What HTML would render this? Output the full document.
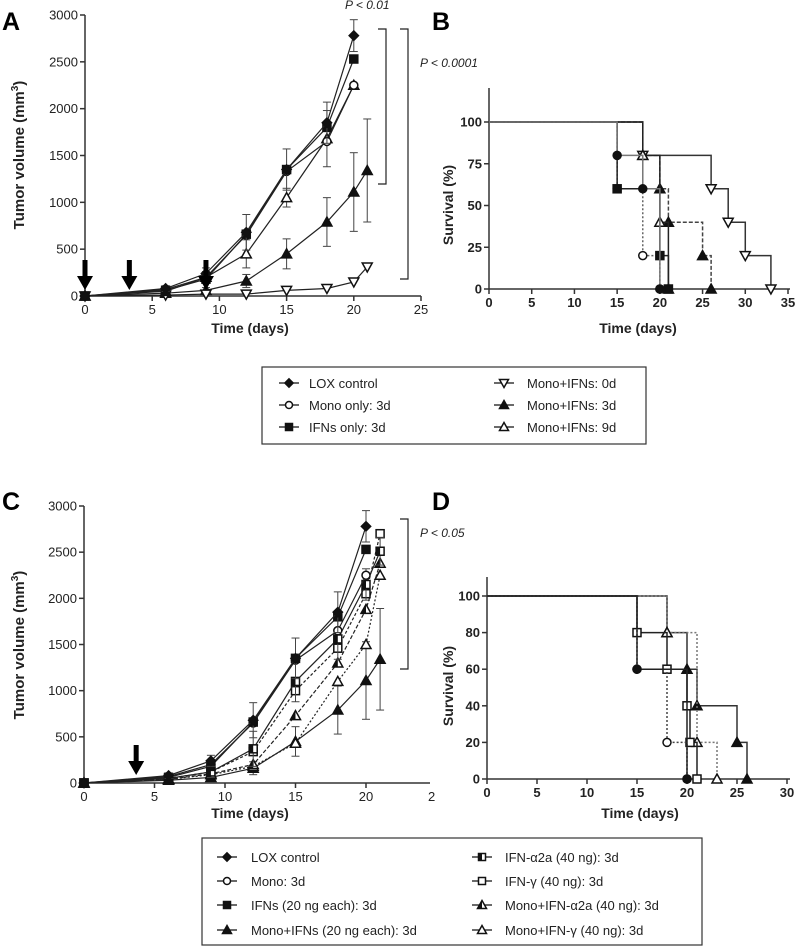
<!DOCTYPE html>
<html><head><meta charset="utf-8"><style>
body{margin:0;background:#fff;}
svg{display:block;font-family:"Liberation Sans",Arial,sans-serif;}
</style></head><body>
<svg id="fig" width="800" height="946" viewBox="0 0 800 946">
</svg>
<script>
// ---------- Data ----------
const daysA=[0,6,9,12,15,18,20,21];
const aLox=[0,80,240,680,1350,1850,2780,null];
const aMono=[0,70,200,650,1330,1650,2250,null];
const aIfn=[0,60,180,660,1350,1800,2530,null];
const aMono0=[0,10,20,20,60,80,150,310];
const aMono3=[0,30,60,160,450,790,1110,1340];
const aMono9=[0,50,200,450,1050,1680,2250,null];
const aLoxErr=[0,30,60,190,220,220,170,0];
const aMono3Err=[0,10,30,70,160,260,420,550];
const aMono9Err=[0,20,60,150,100,300,0,0];
const tickYA=[0,500,1000,1500,2000,2500,3000];
const tickXA=[0,5,10,15,20,25];

const cLox=[0,80,240,680,1350,1850,2780,null];
const cMono=[0,70,200,650,1330,1650,2250,null];
const cIfn=[0,60,180,660,1350,1800,2530,null];
const cMonoIfn=[0,30,60,160,450,790,1110,1340];
const cA2a=[0,50,120,370,1100,1560,2150,2510];
const cGam=[0,50,120,340,1000,1460,2050,2700];
const cMonoA2a=[0,40,100,200,730,1300,1880,2380];
const cMonoGam=[0,40,90,180,430,1100,1500,2250];
const cErr=[0,30,60,190,220,220,170,150];
const cMonoIfnErr=[0,10,30,70,160,260,420,550];

const bLoxT=[0,15,18,20], bLoxS=[100,80,60,0];
const bMonoT=[0,15,18,20], bMonoS=[100,60,20,0];
const bIfnT=[0,15,20,21], bIfnS=[100,60,20,0];
const b0T=[0,18,26,28,30,33], b0S=[100,80,60,40,20,0];
const b3T=[0,18,20,21,25,26], b3S=[100,80,60,40,20,0];
const b9T=[0,18,20,21], b9S=[100,80,40,0];
const tickYB=[0,25,50,75,100];
const tickXB=[0,5,10,15,20,25,30,35];

const dLoxT=[0,15,20], dLoxS=[100,60,0];
const dMonoT=[0,15,18,20], dMonoS=[100,60,20,0];
const dGamT=[0,15,18,20,20.3,21], dGamS=[100,80,60,40,20,0];
const dMIT=[0,18,20,21,25,26], dMIS=[100,80,60,40,20,0];
const dMGT=[0,18,21,23], dMGS=[100,80,20,0];
const tickYD=[0,20,40,60,80,100];
const tickXD=[0,5,10,15,20,25,30];

// ---------- helpers ----------
const svg=document.getElementById('fig');
const NS='http://www.w3.org/2000/svg';
function el(tag,attrs,parent){const e=document.createElementNS(NS,tag);for(const k in attrs)e.setAttribute(k,attrs[k]);(parent||svg).appendChild(e);return e;}
function txt(x,y,s,attrs,parent){const t=el('text',Object.assign({x:x,y:y,'font-size':13,fill:'#222'},attrs||{}),parent);t.textContent=s;return t;}
function marker(g,type,x,y,fill,s){
  s=s||4;let e;
  if(type==='circle')e=el('circle',{cx:x,cy:y,r:s,fill:fill,stroke:'#111','stroke-width':1.5},g);
  else if(type==='square')e=el('rect',{x:x-s,y:y-s,width:2*s,height:2*s,fill:fill,stroke:'#111','stroke-width':1.5},g);
  else if(type==='diamond')e=el('polygon',{points:`${x},${y-s-1} ${x+s+1},${y} ${x},${y+s+1} ${x-s-1},${y}`,fill:fill,stroke:'#111','stroke-width':1},g);
  else if(type==='tri')e=el('polygon',{points:`${x},${y-s-1} ${x+s+1},${y+s} ${x-s-1},${y+s}`,fill:fill,stroke:'#111','stroke-width':1.5},g);
  else if(type==='dtri')e=el('polygon',{points:`${x},${y+s+1} ${x+s+1},${y-s} ${x-s-1},${y-s}`,fill:fill,stroke:'#111','stroke-width':1.5},g);
  else if(type==='hsquare'){e=el('rect',{x:x-s,y:y-s,width:2*s,height:2*s,fill:'#fff',stroke:'#111','stroke-width':1.5},g);el('rect',{x:x-s,y:y-s,width:s,height:2*s,fill:'#111'},g);}
  else if(type==='htri'){e=el('polygon',{points:`${x},${y-s-1} ${x+s+1},${y+s} ${x-s-1},${y+s}`,fill:'#fff',stroke:'#111','stroke-width':1.5},g);el('polygon',{points:`${x},${y-s-1} ${x},${y+s} ${x-s-1},${y+s}`,fill:'#111'},g);}
  return e;
}
function axes(g,x0,y0,xEnd,yTop,sx,sy,xt,yt,xlab){
  el('line',{x1:x0,y1:y0,x2:xEnd,y2:y0,stroke:'#333','stroke-width':1.5},g);
  el('line',{x1:x0,y1:y0,x2:x0,y2:yTop,stroke:'#333','stroke-width':1.5},g);
  yt.forEach(v=>{const y=sy(v);el('line',{x1:x0-5,y1:y,x2:x0,y2:y,stroke:'#333','stroke-width':1.5},g);txt(x0-7,y+4.5,String(v),{'text-anchor':'end','font-size':13,'font-weight':xlab?'normal':'bold'},g);});
  xt.forEach(v=>{const x=sx(v);el('line',{x1:x,y1:y0,x2:x,y2:y0+5,stroke:'#333','stroke-width':1.5},g);txt(x,y0+18,String(v),{'text-anchor':'middle','font-size':13,'font-weight':xlab?'normal':'bold'},g);});
}
function growth(g,sx,sy,xs,vals,type,fill,dash,err){
  const pts=[];xs.forEach((d,i)=>{if(vals[i]!=null)pts.push([sx(d),sy(vals[i]),i]);});
  el('polyline',{points:pts.map(p=>p[0]+','+p[1]).join(' '),fill:'none',stroke:'#222','stroke-width':1.2,'stroke-dasharray':dash||'none'},g);
  if(err)pts.forEach(p=>{const e=err[p[2]];if(!e)return;const v=vals[p[2]];const y1=sy(v+e),y2=sy(v-e);el('line',{x1:p[0],y1:y1,x2:p[0],y2:y2,stroke:'#444','stroke-width':1},g);el('line',{x1:p[0]-4,y1:y1,x2:p[0]+4,y2:y1,stroke:'#444','stroke-width':1},g);el('line',{x1:p[0]-4,y1:y2,x2:p[0]+4,y2:y2,stroke:'#444','stroke-width':1},g);});
  pts.forEach(p=>marker(g,type,p[0],p[1],fill));
}
function km(g,sx,sy,ts,ss,type,fill,dash,color){
  let d=`M${sx(ts[0])},${sy(ss[0])}`;
  for(let i=1;i<ts.length;i++){d+=` H${sx(ts[i])} V${sy(ss[i])}`;}
  el('path',{d:d,fill:'none',stroke:color||'#222','stroke-width':1.5,'stroke-dasharray':dash||'none'},g);
  for(let i=1;i<ts.length;i++)marker(g,type,sx(ts[i]),sy(ss[i]),fill);
}
function arrow(g,x,yTop,yTip){
  el('polygon',{points:`${x-2.5},${yTop} ${x+2.5},${yTop} ${x+2.5},${yTip-14} ${x+8},${yTip-14} ${x},${yTip} ${x-8},${yTip-14} ${x-2.5},${yTip-14}`,fill:'#000'},g);
}
function bracket(g,x,y1,y2){el('path',{d:`M${x},${y1} H${x+8} V${y2} H${x}`,fill:'none',stroke:'#222','stroke-width':1.2},g);}

// ---------- Panel A ----------
const gA=el('g',{});
const sxA=d=>85+d*13.44, syA=v=>296-v*281/3000;
axes(gA,85,296,421,15,sxA,syA,tickXA,tickYA,true);
txt(2,30,'A',{'font-size':25,'font-weight':'bold',fill:'#000'},gA);
const ytA=txt(0,0,'',{'font-size':15,'font-weight':'bold','text-anchor':'middle',transform:'translate(24,155) rotate(-90)'},gA);
ytA.innerHTML='Tumor volume (mm<tspan dy="-6" font-size="10">3</tspan><tspan dy="6">)</tspan>';
txt(250,333,'Time (days)',{'font-size':14,'font-weight':'bold','text-anchor':'middle'},gA);
growth(gA,sxA,syA,daysA,aMono3,'tri','#111',null,aMono3Err);
growth(gA,sxA,syA,daysA,aMono0,'dtri','#fff',null,null);
growth(gA,sxA,syA,daysA,aMono9,'tri','#fff',null,aMono9Err);
growth(gA,sxA,syA,daysA,aMono,'circle','#fff',null,null);
growth(gA,sxA,syA,daysA,aIfn,'square','#111',null,null);
growth(gA,sxA,syA,daysA,aLox,'diamond','#111',null,aLoxErr);
[0,3.3,9].forEach(d=>arrow(gA,sxA(d),260,290));
bracket(gA,378,29,184);bracket(gA,400,29,279);
txt(345,9,'P < 0.01',{'font-style':'italic','font-size':12},gA);
txt(420,67,'P < 0.0001',{'font-style':'italic','font-size':12},gA);

// ---------- Panel B ----------
const gB=el('g',{});
const sxB=d=>489+d*299/35, syB=v=>289-v*1.67;
axes(gB,489,289,790,88,sxB,syB,tickXB,tickYB,false);
txt(432,30,'B',{'font-size':25,'font-weight':'bold',fill:'#000'},gB);
txt(0,0,'Survival (%)',{'font-size':14,'font-weight':'bold','text-anchor':'middle',transform:'translate(453,205) rotate(-90)'},gB);
txt(638,333,'Time (days)',{'font-size':14,'font-weight':'bold','text-anchor':'middle'},gB);
km(gB,sxB,syB,b0T,b0S,'dtri','#fff',null,'#333');
km(gB,sxB,syB,b3T,b3S,'tri','#111','4,2','#444');
km(gB,sxB,syB,b9T,b9S,'tri','#fff',null,'#222');
km(gB,sxB,syB,bMonoT,bMonoS,'circle','#fff','2,2','#666');
km(gB,sxB,syB,bIfnT,bIfnS,'square','#111',null,'#222');
km(gB,sxB,syB,bLoxT,bLoxS,'circle','#111',null,'#777');

// ---------- Legend A ----------
const lA=el('g',{});
el('rect',{x:262,y:367,width:384,height:77,fill:'#fff',stroke:'#333','stroke-width':1.2},lA);
[['diamond','#111','LOX control',289,309,383],['circle','#fff','Mono only: 3d',289,309,405],['square','#111','IFNs only: 3d',289,309,427],
 ['dtri','#fff','Mono+IFNs: 0d',504,527,383],['tri','#111','Mono+IFNs: 3d',504,527,405],['tri','#fff','Mono+IFNs: 9d',504,527,427]].forEach(r=>{
  const e=el('g',{},lA);
  el('line',{x1:r[3]-10,y1:r[5],x2:r[3]+10,y2:r[5],stroke:'#111','stroke-width':1.3},e);marker(e,r[0],r[3],r[5],r[1],3.5);
  txt(r[4],r[5]+5,r[2],{'font-size':13},e);});

// ---------- Panel C ----------
const gC=el('g',{});
const sxC=d=>84+d*14.1, syC=v=>783-v*277/3000;
axes(gC,84,783,430,506,sxC,syC,[0,5,10,15,20],tickYA,true);
txt(428,801,'2',{'font-size':13},gC);
txt(2,510,'C',{'font-size':25,'font-weight':'bold',fill:'#000'},gC);
const ytC=txt(0,0,'',{'font-size':15,'font-weight':'bold','text-anchor':'middle',transform:'translate(24,645) rotate(-90)'},gC);
ytC.innerHTML='Tumor volume (mm<tspan dy="-6" font-size="10">3</tspan><tspan dy="6">)</tspan>';
txt(250,818,'Time (days)',{'font-size':14,'font-weight':'bold','text-anchor':'middle'},gC);
growth(gC,sxC,syC,daysA,cMonoIfn,'tri','#111',null,cMonoIfnErr);
growth(gC,sxC,syC,daysA,cMonoGam,'tri','#fff','2,2',null);
growth(gC,sxC,syC,daysA,cMonoA2a,'htri','#fff','4,2',null);
growth(gC,sxC,syC,daysA,cGam,'square','#fff','3,2',null);
growth(gC,sxC,syC,daysA,cA2a,'hsquare','#fff',null,cErr);
growth(gC,sxC,syC,daysA,cMono,'circle','#fff',null,null);
growth(gC,sxC,syC,daysA,cIfn,'square','#111',null,null);
growth(gC,sxC,syC,daysA,cLox,'diamond','#111',null,cErr);
arrow(gC,sxC(3.7),745,775);
bracket(gC,400,519,669);
txt(420,537,'P < 0.05',{'font-style':'italic','font-size':12},gC);

// ---------- Panel D ----------
const gD=el('g',{});
const sxD=d=>487+d*10, syD=v=>779-v*1.83;
axes(gD,487,779,790,577,sxD,syD,tickXD,tickYD,false);
txt(432,510,'D',{'font-size':25,'font-weight':'bold',fill:'#000'},gD);
txt(0,0,'Survival (%)',{'font-size':14,'font-weight':'bold','text-anchor':'middle',transform:'translate(453,686) rotate(-90)'},gD);
txt(640,818,'Time (days)',{'font-size':14,'font-weight':'bold','text-anchor':'middle'},gD);
km(gD,sxD,syD,dMIT,dMIS,'tri','#111',null,'#333');
km(gD,sxD,syD,dMGT,dMGS,'tri','#fff','2,2','#777');
km(gD,sxD,syD,dGamT,dGamS,'square','#fff',null,'#222');
km(gD,sxD,syD,dMonoT,dMonoS,'circle','#fff','2,2','#444');
km(gD,sxD,syD,dLoxT,dLoxS,'circle','#111',null,'#222');

// ---------- Legend C ----------
const lC=el('g',{});
el('rect',{x:202,y:838,width:500,height:107,fill:'#fff',stroke:'#333','stroke-width':1.2},lC);
[['diamond','#111','LOX control',227,251,857],['circle','#fff','Mono: 3d',227,251,881],['square','#111','IFNs (20 ng each): 3d',227,251,905],['tri','#111','Mono+IFNs (20 ng each): 3d',227,251,930],
 ['hsquare','#fff','IFN-α2a (40 ng): 3d',482,505,857],['square','#fff','IFN-γ (40 ng): 3d',482,505,881],['htri','#fff','Mono+IFN-α2a (40 ng): 3d',482,505,905],['tri','#fff','Mono+IFN-γ (40 ng): 3d',482,505,930]].forEach(r=>{
  const e=el('g',{},lC);
  el('line',{x1:r[3]-10,y1:r[5],x2:r[3]+10,y2:r[5],stroke:'#111','stroke-width':1.3},e);marker(e,r[0],r[3],r[5],r[1],3.5);
  txt(r[4],r[5]+5,r[2],{'font-size':13},e);});
</script>
</body></html>
